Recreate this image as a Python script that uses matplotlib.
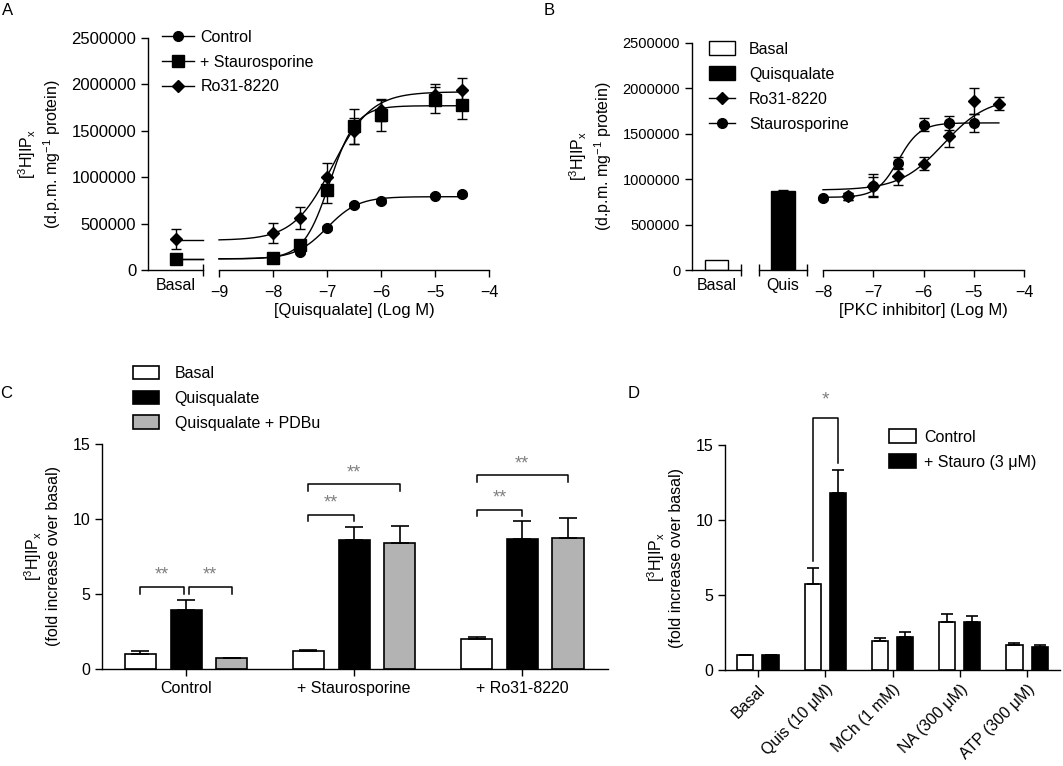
import matplotlib
matplotlib.use('Agg')
import matplotlib.pyplot as plt
import numpy as np
from matplotlib.lines import Line2D
from matplotlib.patches import Patch
from matplotlib.ticker import FuncFormatter

plt.rcParams['font.family'] = ['Liberation Sans', 'DejaVu Sans']
plt.rcParams['mathtext.fontset'] = 'custom'
plt.rcParams['mathtext.rm'] = 'Liberation Sans'
plt.rcParams['axes.linewidth'] = 1.0
plt.rcParams['xtick.major.width'] = 1.0
plt.rcParams['ytick.major.width'] = 1.0

# ---------------- panel A data ----------------
a_logq = [-8, -7.5, -7, -6.5, -6, -5, -4.5]
a_ctrl = [125000, 190000, 450000, 700000, 745000, 800000, 815000]
a_ctrl_err = [15000, 15000, 20000, 20000, 25000, 15000, 15000]
a_stau = [130000, 270000, 860000, 1550000, 1670000, 1830000, 1780000]
a_stau_err = [20000, 40000, 140000, 190000, 170000, 140000, 150000]
a_ro31 = [400000, 560000, 1000000, 1500000, 1720000, 1890000, 1940000]
a_ro31_err = [110000, 120000, 150000, 140000, 110000, 110000, 130000]
a_basal = [120000, 120000, 335000]
a_basal_err = [15000, 15000, 110000]
# fitted curves: bottom, top, logEC50, hill
a_ctrl_fit = [120000, 790000, -7.0, 1.5]
a_stau_fit = [120000, 1770000, -6.95, 1.8]
a_ro31_fit = [320000, 1920000, -6.9, 1.2]

# ---------------- panel B data ----------------
b_basal = 115000
b_quis = 870000
b_quis_err = 15000
b_stau_x = [-8, -7.5, -7, -6.5, -6, -5.5, -5]
b_stau = [790000, 810000, 930000, 1180000, 1600000, 1620000, 1620000]
b_stau_err = [15000, 40000, 130000, 70000, 70000, 80000, 100000]
b_ro31_x = [-7.5, -7, -6.5, -6, -5.5, -5, -4.5]
b_ro31 = [810000, 920000, 1030000, 1170000, 1480000, 1860000, 1830000]
b_ro31_err = [40000, 100000, 90000, 70000, 120000, 140000, 70000]
b_stau_fit = [800000, 1620000, -6.5, 2.0]
b_ro31_fit = [880000, 1900000, -5.6, 1.0]

# ---------------- panel C data ----------------
c_groups = ['Control', '+ Staurosporine', '+ Ro31-8220']
c_basal = [0.99, 1.2, 2.03]
c_basal_err = [0.22, 0.1, 0.08]
c_quis = [3.92, 8.6, 8.65]
c_quis_err = [0.66, 0.85, 1.25]
c_pdbu = [0.71, 8.4, 8.75]
c_pdbu_err = [0.0, 1.15, 1.35]
# brackets: group, bar from, bar to, height
c_sig = [(0, 0, 1, 5.45), (0, 1, 2, 5.45), (1, 0, 1, 10.3), (1, 0, 2, 12.3),
         (2, 0, 1, 10.6), (2, 0, 2, 12.9)]

# ---------------- panel D data ----------------
d_labels = ['Basal', 'Quis (10 \u03bcM)', 'MCh (1 mM)', 'NA (300 \u03bcM)', 'ATP (300 \u03bcM)']
d_ctrl = [1.0, 5.73, 1.93, 3.22, 1.67]
d_ctrl_err = [0.0, 1.05, 0.23, 0.49, 0.11]
d_stau = [1.0, 11.78, 2.18, 3.22, 1.56]
d_stau_err = [0.0, 1.55, 0.33, 0.38, 0.11]

W, H = 1063, 766


def px_axes(l, t, r, b):
    return fig.add_axes([l / W, 1 - b / H, (r - l) / W, (b - t) / H])


def sigmoid(x, p):
    bot, top, ec, h = p
    return bot + (top - bot) / (1 + 10 ** ((ec - x) * h))


def seg_ends(ax, xs):
    ax.set_xticks(xs, minor=True)
    ax.tick_params(axis='x', which='minor', direction='inout', length=9, width=1.0)


intfmt = FuncFormatter(lambda v, p: '%d' % v)
ylab_dpm = '[$\\mathregular{^3}$H]IP$\\mathregular{_x}$\n(d.p.m. mg$\\mathregular{^{-1}}$ protein)'
ylab_fold = '[$\\mathregular{^3}$H]IP$\\mathregular{_x}$\n(fold increase over basal)'
star_col = '#808080'

fig = plt.figure(figsize=(W / 100, H / 100), dpi=100)
fig.patch.set_facecolor('white')

# ================= A =================
axa0 = px_axes(148, 38, 203, 270)
axa1 = px_axes(219, 38, 489, 270)
for ax in (axa0, axa1):
    ax.set_ylim(0, 2500000)
    ax.spines['top'].set_visible(False)
    ax.spines['right'].set_visible(False)
axa1.spines['left'].set_visible(False)
axa1.set_yticks([])
axa0.set_yticks(np.arange(0, 2500001, 500000))
axa0.yaxis.set_major_formatter(intfmt)
axa0.tick_params(axis='y', labelsize=12, length=5)
axa0.set_xlim(0, 1)
axa0.set_xticks([0.5])
axa0.set_xticklabels(['Basal'])
axa0.tick_params(axis='x', which='major', length=0, labelsize=11.5, pad=6)
seg_ends(axa0, [1.0])
axa0.set_ylabel(ylab_dpm, fontsize=11.5, labelpad=6)

axa1.set_xlim(-9, -4)
axa1.set_xticks(np.arange(-9, -3, 1))
axa1.tick_params(axis='x', labelsize=11.5, length=5, pad=6)
seg_ends(axa1, [-9])
axa1.set_xlabel('[Quisqualate] (Log M)', fontsize=12, labelpad=2)

xc = np.linspace(-9, -4.5, 300)
series_a = [(a_ctrl, a_ctrl_err, a_ctrl_fit, 'o', 7, 0),
            (a_stau, a_stau_err, a_stau_fit, 's', 8, 1),
            (a_ro31, a_ro31_err, a_ro31_fit, 'D', 6.5, 2)]
for y, e, fit, mk, ms, i in series_a:
    axa1.plot(xc, sigmoid(xc, fit), color='k', lw=1.0, clip_on=False)
    axa1.errorbar(a_logq, y, yerr=e, fmt=mk, color='k', ms=ms, ecolor='k',
                  elinewidth=1.0, capsize=3.5, capthick=1.0, clip_on=False, zorder=3)
    axa0.plot([0.5, 1.0], [fit[0], fit[0]], color='k', lw=1.0, clip_on=False)
    axa0.errorbar([0.5], [a_basal[i]], yerr=[a_basal_err[i]], fmt=mk, color='k', ms=ms,
                  ecolor='k', elinewidth=1.0, capsize=3.5, capthick=1.0, clip_on=False, zorder=3)

leg_a = [Line2D([], [], color='k', lw=1.0, marker='o', ms=7),
         Line2D([], [], color='k', lw=1.0, marker='s', ms=8),
         Line2D([], [], color='k', lw=1.0, marker='D', ms=6.5)]
axa1.legend(leg_a, ['Control', '+ Staurosporine', 'Ro31-8220'], loc='upper left',
            bbox_to_anchor=(162 / W, 1 - 30 / H), bbox_transform=fig.transFigure,
            frameon=False, fontsize=11.5, handlelength=2.0, handletextpad=0.4,
            labelspacing=0.6, borderpad=0, borderaxespad=0, numpoints=1)

# ================= B =================
axb0 = px_axes(692, 43, 741, 270)
axb1 = px_axes(759, 43, 807, 270)
axb2 = px_axes(823, 43, 1024, 270)
for ax in (axb0, axb1, axb2):
    ax.set_ylim(0, 2500000)
    ax.spines['top'].set_visible(False)
    ax.spines['right'].set_visible(False)
for ax in (axb1, axb2):
    ax.spines['left'].set_visible(False)
    ax.set_yticks([])
axb0.set_yticks(np.arange(0, 2500001, 500000))
axb0.yaxis.set_major_formatter(intfmt)
axb0.tick_params(axis='y', labelsize=10.5, length=5)
axb0.set_ylabel(ylab_dpm, fontsize=11.5, labelpad=6)

axb0.set_xlim(-0.5, 0.5)
axb0.bar([0.0], [b_basal], width=0.48, color='white', edgecolor='k', lw=1.0)
axb0.set_xticks([0.0])
axb0.set_xticklabels(['Basal'])
axb0.tick_params(axis='x', which='major', length=0, labelsize=11.5, pad=6)
seg_ends(axb0, [0.5])

axb1.set_xlim(-0.5, 0.5)
axb1.bar([0.0], [b_quis], width=0.48, color='k', edgecolor='k', lw=1.0,
         yerr=[[0], [b_quis_err]], error_kw=dict(ecolor='k', elinewidth=1.0, capsize=3.5, capthick=1.0))
axb1.set_xticks([0.0])
axb1.set_xticklabels(['Quis'])
axb1.tick_params(axis='x', which='major', length=0, labelsize=11.5, pad=6)
seg_ends(axb1, [-0.5, 0.5])

axb2.set_xlim(-8, -4)
axb2.set_xticks(np.arange(-8, -3, 1))
axb2.tick_params(axis='x', labelsize=11.5, length=5, pad=6)
seg_ends(axb2, [-8])
axb2.set_xlabel('[PKC inhibitor] (Log M)', fontsize=12, labelpad=2)
xb = np.linspace(-8, -4.5, 300)
axb2.plot(xb, sigmoid(xb, b_stau_fit), color='k', lw=1.0, clip_on=False)
axb2.plot(xb, sigmoid(xb, b_ro31_fit), color='k', lw=1.0, clip_on=False)
axb2.errorbar(b_stau_x, b_stau, yerr=b_stau_err, fmt='o', color='k', ms=7, ecolor='k',
              elinewidth=1.0, capsize=3.5, capthick=1.0, clip_on=False, zorder=3)
axb2.errorbar(b_ro31_x, b_ro31, yerr=b_ro31_err, fmt='D', color='k', ms=6.5, ecolor='k',
              elinewidth=1.0, capsize=3.5, capthick=1.0, clip_on=False, zorder=3)

leg_b = [Patch(facecolor='white', edgecolor='k', lw=1.0),
         Patch(facecolor='k', edgecolor='k', lw=1.0),
         Line2D([], [], color='k', lw=1.0, marker='D', ms=6.5),
         Line2D([], [], color='k', lw=1.0, marker='o', ms=7)]
axb2.legend(leg_b, ['Basal', 'Quisqualate', 'Ro31-8220', 'Staurosporine'], loc='upper left',
            bbox_to_anchor=(709 / W, 1 - 41 / H), bbox_transform=fig.transFigure,
            frameon=False, fontsize=11.5, handlelength=1.6, handleheight=1.0, handletextpad=0.9,
            labelspacing=0.6, borderpad=0, borderaxespad=0)

# ================= C =================
axc = px_axes(102, 444, 608, 669)
axc.spines['top'].set_visible(False)
axc.spines['right'].set_visible(False)
xg = np.arange(len(c_groups))
bw, off = 0.185, 0.272
ekw = dict(ecolor='k', elinewidth=1.2, capsize=6.5, capthick=1.2)
axc.bar(xg - off, c_basal, bw, color='white', edgecolor='k', lw=1.2,
        yerr=[np.zeros(3), c_basal_err], error_kw=ekw)
axc.bar(xg, c_quis, bw, color='k', edgecolor='k', lw=1.2,
        yerr=[np.zeros(3), c_quis_err], error_kw=ekw)
axc.bar(xg + off, c_pdbu, bw, color='#b3b3b3', edgecolor='k', lw=1.2,
        yerr=[np.zeros(3), c_pdbu_err], error_kw=ekw)
axc.set_xlim(-0.5, 2.51)
axc.set_ylim(0, 15)
axc.set_yticks([0, 5, 10, 15])
axc.set_xticks(xg)
axc.set_xticklabels(c_groups)
axc.tick_params(axis='both', labelsize=11.5, length=5)
axc.set_ylabel(ylab_fold, fontsize=11.5, labelpad=8)
for g, i, j, h in c_sig:
    x1 = g + (i - 1) * off + (0.015 if i == 1 else 0)
    x2 = g + (j - 1) * off - (0.015 if j == 1 and i == 0 and g == 0 else 0)
    axc.plot([x1, x1, x2, x2], [h - 0.42, h, h, h - 0.42], color='k', lw=1.1, clip_on=False)
    axc.text((x1 + x2) / 2, h + 0.8, '**', ha='center', va='center', fontsize=13, color=star_col)

leg_c = [Patch(facecolor='white', edgecolor='k', lw=1.2),
         Patch(facecolor='k', edgecolor='k', lw=1.2),
         Patch(facecolor='#b3b3b3', edgecolor='k', lw=1.2)]
axc.legend(leg_c, ['Basal', 'Quisqualate', 'Quisqualate + PDBu'], loc='upper left',
           bbox_to_anchor=(133 / W, 1 - 366 / H), bbox_transform=fig.transFigure,
           frameon=False, fontsize=11.5, handlelength=1.6, handleheight=0.9, handletextpad=1.0,
           labelspacing=0.6, borderpad=0, borderaxespad=0)

# ================= D =================
axd = px_axes(725, 445, 1060, 670)
axd.spines['top'].set_visible(False)
axd.spines['right'].set_visible(False)
xd = np.arange(len(d_labels))
dw, doff = 0.24, 0.187
ekd = dict(ecolor='k', elinewidth=1.2, capsize=4.5, capthick=1.2)
axd.bar(xd - doff, d_ctrl, dw, color='white', edgecolor='k', lw=1.2,
        yerr=[np.zeros(5), d_ctrl_err], error_kw=ekd)
axd.bar(xd + doff, d_stau, dw, color='k', edgecolor='k', lw=1.2,
        yerr=[np.zeros(5), d_stau_err], error_kw=ekd)
axd.set_xlim(-0.49, 4.49)
axd.set_ylim(0, 15)
axd.set_yticks([0, 5, 10, 15])
axd.set_xticks(xd)
axd.set_xticklabels(d_labels, rotation=45, ha='right', rotation_mode='anchor')
axd.tick_params(axis='both', labelsize=11.5, length=5)
axd.set_ylabel(ylab_fold, fontsize=11.5, labelpad=8)
# significance bracket, Quis control vs stauro
xl, xr = 1 - doff, 1 + doff
ytop = 16.8
axd.plot([xl, xl, xr, xr], [d_ctrl[1] + d_ctrl_err[1] + 0.5, ytop, ytop, d_stau[1] + d_stau_err[1] + 0.5],
         color='k', lw=1.1, clip_on=False)
axd.text(1, ytop + 1.2, '*', ha='center', va='center', fontsize=14, color=star_col)

leg_d = [Patch(facecolor='white', edgecolor='k', lw=1.2),
         Patch(facecolor='k', edgecolor='k', lw=1.2)]
axd.legend(leg_d, ['Control', '+ Stauro (3 \u03bcM)'], loc='upper left',
           bbox_to_anchor=(889 / W, 1 - 429 / H), bbox_transform=fig.transFigure,
           frameon=False, fontsize=11.5, handlelength=1.7, handleheight=1.0, handletextpad=0.5,
           labelspacing=0.6, borderpad=0, borderaxespad=0)

# panel letters
for lab, x, y in [('A', 2, 3), ('B', 544, 3), ('C', 0, 386), ('D', 628, 386)]:
    fig.text(x / W, 1 - y / H, lab, ha='left', va='top', fontsize=12)

fig.savefig('out.png', dpi=100, facecolor='white')
